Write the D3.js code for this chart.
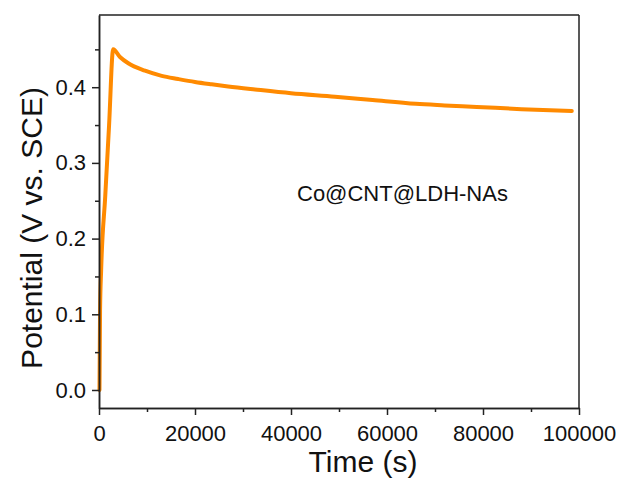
<!DOCTYPE html>
<html>
<head>
<meta charset="utf-8">
<script src="https://cdn.jsdelivr.net/npm/d3@7"></script>
<style>
  html, body { margin: 0; padding: 0; background: #ffffff; }
  svg { display: block; }
  text { font-family: "Liberation Sans", Arial, sans-serif; fill: #111; }
</style>
</head>
<body>
<script>
// ---- data ----
const timeS = [100, 220, 450, 1300, 2100, 2950, 4370, 6100, 9580, 13060, 16500, 20000, 23470, 26900, 32500, 40000, 49170, 57000, 66000, 72000, 78700, 88000, 98500];
const potentialV = [0.0, 0.105, 0.159, 0.256, 0.350, 0.450, 0.440, 0.4316, 0.4218, 0.415, 0.4108, 0.4069, 0.4038, 0.401, 0.397, 0.392, 0.3875, 0.383, 0.378, 0.376, 0.374, 0.371, 0.3686];
const xTicks = [0, 20000, 40000, 60000, 80000, 100000];
const xMinorTicks = [10000, 30000, 50000, 70000, 90000];
const yTicks = [0.0, 0.1, 0.2, 0.3, 0.4];
const yMinorTicks = [0.05, 0.15, 0.25, 0.35, 0.45];
const seriesLabel = "Co@CNT@LDH-NAs";
const xTitle = "Time (s)";
const yTitle = "Potential (V vs. SCE)";

// ---- layout ----
const W = 621, H = 479;
const m = { left: 99, top: 15, right: 42, bottom: 71 };
const iw = W - m.left - m.right, ih = H - m.top - m.bottom;

const svg = d3.select("body").append("svg").attr("width", W).attr("height", H);
const g = svg.append("g").attr("transform", `translate(${m.left},${m.top})`);

const x = d3.scaleLinear().domain([0, 100000]).range([0, iw]);
const y = d3.scaleLinear().domain([-0.0238, 0.4954]).range([ih, 0]);

// curve
const data = timeS.map((t, i) => ({ t, v: potentialV[i] }));
g.append("path")
  .datum(data)
  .attr("fill", "none")
  .attr("stroke", "#ff8a00")
  .attr("stroke-width", 4)
  .attr("stroke-linejoin", "round")
  .attr("stroke-linecap", "round")
  .attr("d", d3.line().x(d => x(d.t)).y(d => y(d.v)).curve(d3.curveMonotoneX));

// frame (top & right)
g.append("line").attr("x1", 0).attr("x2", iw).attr("y1", 0).attr("y2", 0).attr("stroke", "#222").attr("stroke-width", 1.5);
g.append("line").attr("x1", iw).attr("x2", iw).attr("y1", 0).attr("y2", ih).attr("stroke", "#222").attr("stroke-width", 1.5);

// axes
const fmtY = d3.format(".1f");
const xAxis = g.append("g").attr("transform", `translate(0,${ih})`)
  .call(d3.axisBottom(x).tickValues(xTicks).tickFormat(d3.format("d")).tickSize(7).tickPadding(10).tickSizeOuter(0));
const xMinor = g.append("g").attr("transform", `translate(0,${ih})`)
  .call(d3.axisBottom(x).tickValues(xMinorTicks).tickFormat("").tickSize(4).tickSizeOuter(0));
const yAxis = g.append("g")
  .call(d3.axisLeft(y).tickValues(yTicks).tickFormat(fmtY).tickSize(7).tickPadding(6).tickSizeOuter(0));
const yMinor = g.append("g")
  .call(d3.axisLeft(y).tickValues(yMinorTicks).tickFormat("").tickSize(4).tickSizeOuter(0));

[xAxis, xMinor, yAxis, yMinor].forEach(a => {
  a.select(".domain").attr("stroke", "#222").attr("stroke-width", 1.5);
  a.selectAll(".tick line").attr("stroke", "#222").attr("stroke-width", 1.5);
  a.selectAll(".tick text").style("font-size", "22px").attr("fill", "#111")
    .style("font-family", "'Liberation Sans', Arial, sans-serif");
});

// titles
svg.append("text")
  .attr("x", 363).attr("y", 472)
  .attr("text-anchor", "middle")
  .style("font-size", "30px")
  .text(xTitle);

svg.append("text")
  .attr("transform", `translate(42,228) rotate(-90)`)
  .attr("text-anchor", "middle")
  .style("font-size", "30px")
  .text(yTitle);

// annotation
svg.append("text")
  .attr("x", 297).attr("y", 201)
  .style("font-size", "22px")
  .text(seriesLabel);
</script>
</body>
</html>
